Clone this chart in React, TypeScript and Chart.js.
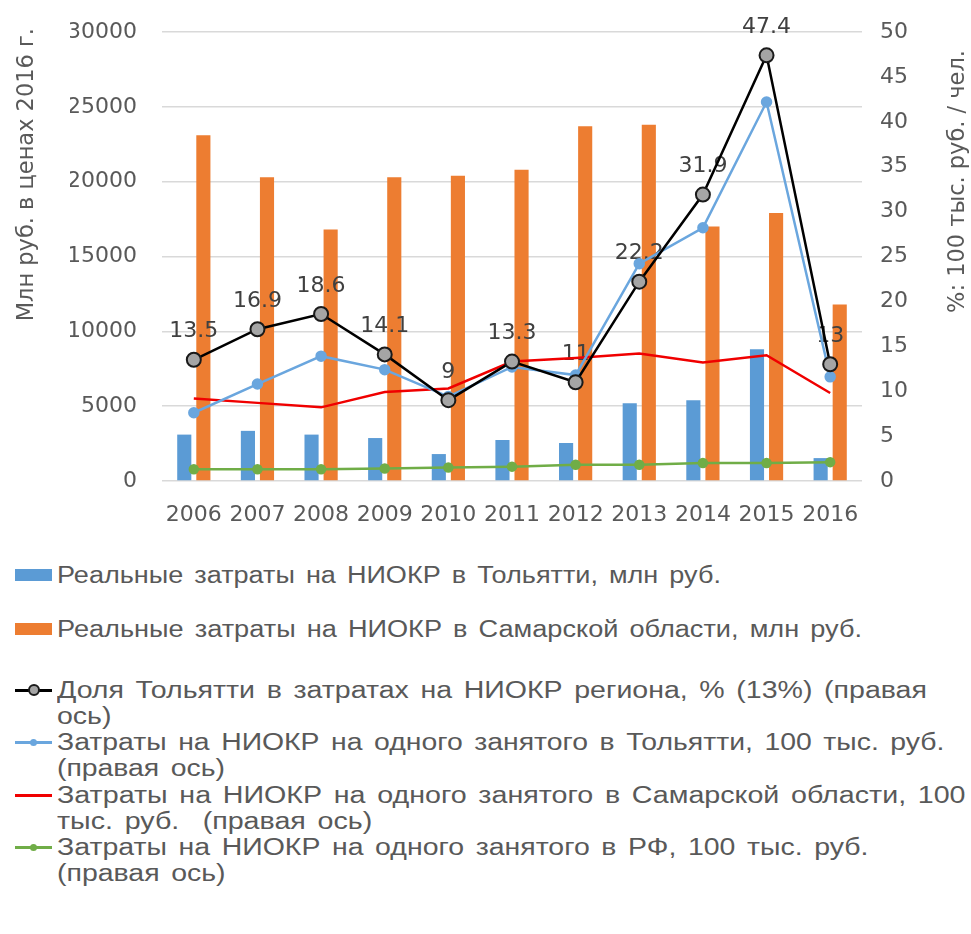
import React, { useEffect, useRef } from "react";
import { Chart, registerables } from "chart.js";

Chart.register(...registerables);

const categories = ["2006", "2007", "2008", "2009", "2010", "2011", "2012", "2013", "2014", "2015", "2016"];
const tolyattiRnd = [3100, 3350, 3100, 2870, 1800, 2740, 2540, 5200, 5400, 8800, 1530];
const samaraRnd = [23100, 20300, 16800, 20300, 20400, 20800, 23700, 23800, 17000, 17900, 11800];
const tolyattiShare = [13.5, 16.9, 18.6, 14.1, 9, 13.3, 11, 22.2, 31.9, 47.4, 13];
const tolyattiPerEmp = [7.6, 10.8, 13.9, 12.4, 9.4, 12.7, 11.8, 24.2, 28.2, 42.2, 11.6];
const samaraPerEmp = [9.2, 8.7, 8.2, 9.9, 10.3, 13.3, 13.7, 14.2, 13.2, 14.0, 9.8];
const rfPerEmp = [1.3, 1.3, 1.3, 1.4, 1.5, 1.6, 1.8, 1.8, 2.0, 2.0, 2.1];

const leftTitle = "Млн руб. в ценах 2016 г.";
const rightTitle = "%: 100 тыс. руб. / чел.";

const seriesNames = [
  "Реальные затраты на НИОКР в Тольятти, млн руб.",
  "Реальные затраты на НИОКР в Самарской области, млн руб.",
  "Доля Тольятти в затратах на НИОКР региона, % (13%) (правая ось)",
  "Затраты на НИОКР на одного занятого в Тольятти, 100 тыс. руб. (правая ось)",
  "Затраты на НИОКР на одного занятого в Самарской области, 100 тыс. руб.  (правая ось)",
  "Затраты на НИОКР на одного занятого в РФ, 100 тыс. руб. (правая ось)",
];
const legendLines = [
  ["Реальные затраты на НИОКР в Тольятти, млн руб."],
  ["Реальные затраты на НИОКР в Самарской области, млн руб."],
  ["Доля Тольятти в затратах на НИОКР региона, % (13%) (правая", "ось)"],
  ["Затраты на НИОКР на одного занятого в Тольятти, 100 тыс. руб.", "(правая ось)"],
  ["Затраты на НИОКР на одного занятого в Самарской области, 100", "тыс. руб.  (правая ось)"],
  ["Затраты на НИОКР на одного занятого в РФ, 100 тыс. руб.", "(правая ось)"],
];

const BLUE = "#5B9BD5";
const ORANGE = "#ED7D31";
const LINEBLUE = "#6AA6DE";
const RED = "#F00000";
const GREEN = "#70AD47";
const GRAY = "#595959";
const FONT = "'DejaVu Sans', sans-serif";

const titlePlugin = {
  id: "customTitles",
  afterDraw(chart: any) {
    const ctx = chart.ctx;
    const ca = chart.chartArea;
    ctx.save();
    ctx.fillStyle = GRAY;
    ctx.font = "22.5px " + FONT;
    ctx.textBaseline = "middle";
    ctx.textAlign = "right";
    ctx.save();
    ctx.translate(27, ca.top - 4);
    ctx.rotate(-Math.PI / 2);
    ctx.fillText(leftTitle, 0, 0);
    ctx.restore();
    ctx.save();
    ctx.translate(958, ca.top + 18);
    ctx.rotate(-Math.PI / 2);
    ctx.fillText(rightTitle, 0, 0);
    ctx.restore();
    ctx.restore();
  },
};

const labelPlugin = {
  id: "shareLabels",
  afterDatasetDraw(chart: any, args: any) {
    if (args.index !== 0) return;
    const meta = chart.getDatasetMeta(2);
    const ctx = chart.ctx;
    ctx.save();
    ctx.fillStyle = "#404040";
    ctx.font = "22px " + FONT;
    ctx.textAlign = "center";
    ctx.textBaseline = "middle";
    meta.data.forEach((pt: any, i: number) => {
      ctx.fillText(String(tolyattiShare[i]), pt.x, pt.y - 28);
    });
    ctx.restore();
  },
};

function ChartView() {
  const ref = useRef<HTMLCanvasElement | null>(null);
  useEffect(() => {
    if (!ref.current) return;
    const chart = new Chart(ref.current, {
      type: "bar",
      data: {
        labels: categories,
        datasets: [
          {
            type: "bar",
            label: seriesNames[0],
            data: tolyattiRnd,
            backgroundColor: BLUE,
            yAxisID: "y",
            order: 10,
            barPercentage: 0.74,
            categoryPercentage: 0.6,
          },
          {
            type: "bar",
            label: seriesNames[1],
            data: samaraRnd,
            backgroundColor: ORANGE,
            yAxisID: "y",
            order: 11,
            barPercentage: 0.74,
            categoryPercentage: 0.6,
          },
          {
            type: "line",
            label: seriesNames[2],
            data: tolyattiShare,
            borderColor: "#000000",
            borderWidth: 2.5,
            pointBackgroundColor: "#A5A5A5",
            pointBorderColor: "#1a1a1a",
            pointBorderWidth: 2,
            pointRadius: 7,
            yAxisID: "y1",
            order: 0,
          },
          {
            type: "line",
            label: seriesNames[3],
            data: tolyattiPerEmp,
            borderColor: LINEBLUE,
            backgroundColor: LINEBLUE,
            borderWidth: 2.5,
            pointBackgroundColor: LINEBLUE,
            pointBorderColor: LINEBLUE,
            pointRadius: 4.5,
            yAxisID: "y1",
            order: 1,
          },
          {
            type: "line",
            label: seriesNames[4],
            data: samaraPerEmp,
            borderColor: RED,
            borderWidth: 2.5,
            pointRadius: 0,
            yAxisID: "y1",
            order: 2,
          },
          {
            type: "line",
            label: seriesNames[5],
            data: rfPerEmp,
            borderColor: GREEN,
            backgroundColor: GREEN,
            borderWidth: 2.5,
            pointBackgroundColor: GREEN,
            pointBorderColor: GREEN,
            pointRadius: 4,
            yAxisID: "y1",
            order: 3,
          },
        ],
      },
      options: {
        animation: false,
        responsive: false,
        maintainAspectRatio: false,
        layout: { padding: { left: 70, right: 64, top: 32, bottom: 14 } },
        plugins: {
          legend: { display: false },
          tooltip: { enabled: false },
        },
        scales: {
          x: {
            grid: { display: false },
            border: { display: false },
            afterFit: (s: any) => {
              s.height = 45;
            },
            ticks: {
              color: GRAY,
              font: { family: FONT, size: 22 },
              maxRotation: 0,
              autoSkip: false,
              padding: 13,
            },
          },
          y: {
            position: "left",
            min: 0,
            max: 30000,
            grid: { color: "#D9D9D9", lineWidth: 1.5, drawTicks: false },
            border: { display: false },
            afterFit: (s: any) => {
              s.width = 92;
              s.paddingTop = 0;
              s.paddingBottom = 0;
            },
            ticks: {
              stepSize: 5000,
              color: GRAY,
              font: { family: FONT, size: 22 },
              padding: 25,
              callback: (v: any) => String(v),
            },
          },
          y1: {
            position: "right",
            min: 0,
            max: 50,
            grid: { drawOnChartArea: false, drawTicks: false },
            border: { display: false },
            afterFit: (s: any) => {
              s.width = 45;
              s.paddingTop = 0;
              s.paddingBottom = 0;
            },
            ticks: {
              stepSize: 5,
              color: GRAY,
              font: { family: FONT, size: 22 },
              padding: 18,
              callback: (v: any) => String(v),
            },
          },
        },
      },
      plugins: [labelPlugin, titlePlugin],
    } as any);
    return () => chart.destroy();
  }, []);
  return <canvas ref={ref} width={971} height={540} style={{ display: "block", width: 971, height: 540 }} />;
}

function Marker({ i }: { i: number }) {
  if (i === 0 || i === 1) {
    return (
      <div style={{ position: "absolute", left: 15, top: 7, width: 37, height: 12, background: i === 0 ? BLUE : ORANGE }} />
    );
  }
  const colors = ["", "", "#000000", LINEBLUE, RED, GREEN];
  const c = colors[i];
  return (
    <div style={{ position: "absolute", left: 15, top: 0, width: 37, height: 26 }}>
      <div style={{ position: "absolute", left: 0, top: 12, width: 37, height: 2.5, background: c }} />
      {i === 2 && (
        <div style={{ position: "absolute", left: 13, top: 7, width: 8, height: 8, borderRadius: "50%", background: "#A5A5A5", border: "2px solid #1a1a1a" }} />
      )}
      {(i === 3 || i === 5) && (
        <div style={{ position: "absolute", left: 15, top: 10, width: 7, height: 7, borderRadius: "50%", background: c }} />
      )}
    </div>
  );
}

function Legend() {
  const gaps = [28, 35, 0, 1, 0, 0];
  const stretch = [1.176, 1.18, 1.24, 1.233, 1.245, 1.237];
  return (
    <div style={{ position: "absolute", left: 0, top: 562, width: 971, fontFamily: "'Liberation Sans', Arial, sans-serif", fontSize: 23, color: GRAY, lineHeight: "26px", wordSpacing: 3 }}>
      {legendLines.map((lines, i) => (
        <div key={i} style={{ position: "relative", height: lines.length * 26, marginBottom: gaps[i] }}>
          <Marker i={i} />
          <div style={{ position: "absolute", left: 57, top: 0, whiteSpace: "pre", transform: `scaleX(${stretch[i]})`, transformOrigin: "0 0" }}>
            {lines.map((l, j) => (
              <div key={j}>{l}</div>
            ))}
          </div>
        </div>
      ))}
    </div>
  );
}

export default function App() {
  return (
    <div style={{ position: "absolute", left: 0, top: 0, width: 971, height: 934, background: "#ffffff", overflow: "hidden" }}>
      <ChartView />
      <Legend />
    </div>
  );
}
